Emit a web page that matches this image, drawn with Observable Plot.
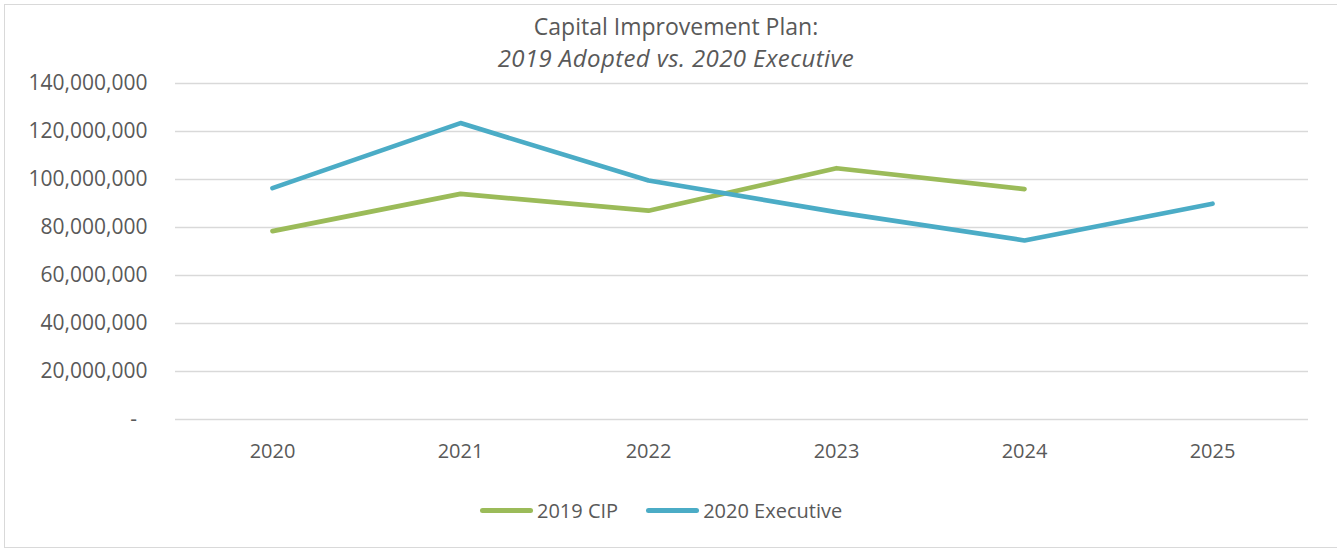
<!DOCTYPE html>
<html><head><meta charset="utf-8">
<script src="https://cdn.jsdelivr.net/npm/d3@7"></script>
<script src="https://cdn.jsdelivr.net/npm/@observablehq/plot@0.6"></script>
<style>
body{margin:0;background:#fff;font-family:"Open Sans",sans-serif;color:#595959;width:1337px;height:548px;position:relative;overflow:hidden}
#frame{position:absolute;left:4px;top:4px;width:1345px;height:544px;border:1px solid #d9d9d9;box-sizing:border-box}
#title{position:absolute;left:0;top:10px;width:1352px;text-align:center;font-size:23px;line-height:32px}
#title .sub{font-style:italic;font-size:24px;letter-spacing:0.4px}
#chart{position:absolute;left:0;top:70px}
#legend{position:absolute;top:497px;left:480px;height:26px;display:flex;align-items:center;font-size:20px;white-space:nowrap}
#legend .item{display:flex;align-items:center;margin-right:28px}
#legend .sw{display:inline-block;width:53px;height:5px;border-radius:3px;margin-right:4px}
</style></head>
<body>
<div id="frame"></div>
<div id="title"><div>Capital Improvement Plan:</div><div class="sub">2019 Adopted vs. 2020 Executive</div></div>
<div id="chart"></div>
<div id="legend"></div>
<script>
const years = ["2020", "2021", "2022", "2023", "2024", "2025"];
const cip2019 = [78.5e6, 94.0e6, 87.0e6, 104.7e6, 96.0e6, null];
const exec2020 = [96.4e6, 123.5e6, 99.6e6, 86.4e6, 74.6e6, 89.9e6];
const seriesNames = ["2019 CIP", "2020 Executive"];
const seriesColors = ["#9BBB59", "#4BACC6"];
const yTicks = [0, 20e6, 40e6, 60e6, 80e6, 100e6, 120e6, 140e6];

const rows = [];
[cip2019, exec2020].forEach((vals, i) => {
  vals.forEach((v, j) => { if (v != null) rows.push({year: years[j], value: v, series: seriesNames[i]}); });
});

const chart = Plot.plot({
  width: 1337, height: 400,
  marginLeft: 175, marginRight: 29, marginTop: 13, marginBottom: 51,
  style: {fontFamily: "'Open Sans', sans-serif", fontSize: "20px", color: "#595959", background: "transparent", overflow: "visible"},
  x: {type: "point", domain: years, padding: 0.5, label: null},
  y: {domain: [0, 140e6], label: null},
  color: {domain: seriesNames, range: seriesColors},
  marks: [
    Plot.ruleY(yTicks, {stroke: "#d9d9d9", strokeWidth: 1.5}),
    Plot.axisY(yTicks, {tickSize: 0, tickPadding: 28, fontSize: 21, label: null,
      tickFormat: d => d === 0 ? "-\u2002" : d3.format(",")(d)}),
    Plot.axisX(years, {tickSize: 0, tickPadding: 24, label: null}),
    Plot.line(rows, {x: "year", y: "value", z: "series", stroke: "series", strokeWidth: 4.7, strokeLinecap: "round", strokeLinejoin: "round"})
  ]
});
document.getElementById("chart").appendChild(chart);

const legend = document.getElementById("legend");
seriesNames.forEach((name, i) => {
  const item = document.createElement("div");
  item.className = "item";
  const sw = document.createElement("span");
  sw.className = "sw";
  sw.style.background = seriesColors[i];
  item.appendChild(sw);
  item.appendChild(document.createTextNode(name));
  legend.appendChild(item);
});
</script>
</body></html>
